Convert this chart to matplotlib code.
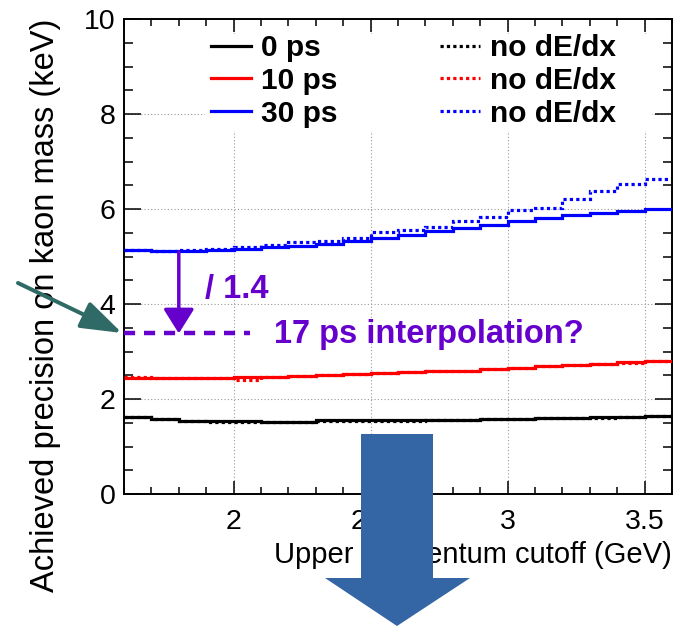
import matplotlib
matplotlib.use('Agg')
import matplotlib.pyplot as plt
from matplotlib.patches import Polygon, Rectangle, FancyArrowPatch
from matplotlib.lines import Line2D
from matplotlib.ticker import MultipleLocator, FormatStrFormatter

# ---------------- data ----------------
bin_edges = [1.6, 1.7, 1.8, 1.9, 2.0, 2.1, 2.2, 2.3, 2.4, 2.5, 2.6,
             2.7, 2.8, 2.9, 3.0, 3.1, 3.2, 3.3, 3.4, 3.5, 3.6]

prec_0ps = [1.62, 1.57, 1.54, 1.54, 1.54, 1.525, 1.525, 1.55, 1.55, 1.55,
            1.55, 1.56, 1.565, 1.58, 1.58, 1.595, 1.60, 1.615, 1.625, 1.645]
prec_0ps_nodedx = [1.62, 1.57, 1.54, 1.51, 1.51, 1.525, 1.525, 1.54, 1.54, 1.54,
                   1.545, 1.555, 1.56, 1.575, 1.575, 1.59, 1.595, 1.61, 1.62, 1.64]

prec_10ps = [2.44, 2.44, 2.44, 2.44, 2.46, 2.46, 2.49, 2.51, 2.53, 2.54,
             2.56, 2.59, 2.60, 2.64, 2.66, 2.69, 2.72, 2.745, 2.77, 2.80]
prec_10ps_nodedx = [2.47, 2.44, 2.44, 2.44, 2.41, 2.46, 2.49, 2.51, 2.53, 2.55,
                    2.56, 2.60, 2.60, 2.64, 2.66, 2.69, 2.72, 2.745, 2.76, 2.80]

prec_30ps = [5.14, 5.12, 5.12, 5.14, 5.16, 5.19, 5.23, 5.27, 5.32, 5.39,
             5.46, 5.54, 5.60, 5.66, 5.74, 5.81, 5.87, 5.92, 5.95, 6.00]
prec_30ps_nodedx = [5.14, 5.12, 5.14, 5.16, 5.19, 5.24, 5.30, 5.33, 5.38, 5.51,
                    5.56, 5.63, 5.74, 5.83, 5.97, 6.03, 6.22, 6.37, 6.53, 6.64]

legend_labels = ['0 ps', '10 ps', '30 ps', 'no dE/dx', 'no dE/dx', 'no dE/dx']

arrow_x = 1.80          # x of "/1.4" arrow
arrow_from = 5.10       # 30 ps level
interp_level = 3.38     # 17 ps interpolated level
interp_x_end = 2.06

# ---------------- style ----------------
plt.rcParams['font.family'] = ['Liberation Sans', 'DejaVu Sans']
PURPLE = '#6600cc'
TEAL = '#306a66'
BIGBLUE = '#3465a4'
LW = 2.3
DOT = (0, (1, 1))

fig = plt.figure(figsize=(6.83, 6.29), dpi=100)
W, H = 683.0, 629.0
ax = fig.add_axes([124 / W, 1 - 494 / H, 548 / W, 475 / H])
ax.set_xlim(1.6, 3.6)
ax.set_ylim(0, 10)

ax.xaxis.set_major_locator(MultipleLocator(0.5))
ax.xaxis.set_minor_locator(MultipleLocator(0.1))
ax.yaxis.set_major_locator(MultipleLocator(2))
ax.yaxis.set_minor_locator(MultipleLocator(0.5))
ax.xaxis.set_major_formatter(FormatStrFormatter('%g'))
ax.yaxis.set_major_formatter(FormatStrFormatter('%g'))

ax.set_axisbelow(True)
ax.grid(True, which='major', color='#9a9a9a', lw=0.8, ls=(0, (1, 2)))

ax.tick_params(which='both', direction='in', top=True, right=True,
               width=1.1, colors='black', labelsize=20.5)
ax.tick_params(axis='x', which='major', length=9.4, pad=10.5)
ax.tick_params(axis='x', which='minor', length=4.7)
ax.tick_params(axis='y', which='major', length=12, pad=6)
ax.tick_params(axis='y', which='minor', length=6.5)
for s in ax.spines.values():
    s.set_linewidth(1.4)

# white legend pad covering grid
ax.add_patch(Rectangle((0.148, 0.764), 0.9635 - 0.148, 0.968 - 0.764,
                       transform=ax.transAxes, facecolor='white',
                       edgecolor='none', zorder=1))

series = [(prec_0ps, prec_0ps_nodedx, 'black'),
          (prec_10ps, prec_10ps_nodedx, '#ff0000'),
          (prec_30ps, prec_30ps_nodedx, '#0000ff')]
for solid, dotted, col in series:
    ax.stairs(dotted, bin_edges, baseline=None, color=col, lw=LW,
              linestyle=DOT, zorder=2)
    ax.stairs(solid, bin_edges, baseline=None, color=col, lw=LW, zorder=3)

handles = [Line2D([0], [0], color=c, lw=LW) for _, _, c in series] + \
          [Line2D([0], [0], color=c, lw=LW, ls=DOT) for _, _, c in series]
leg = ax.legend(handles, legend_labels, ncol=2, loc='upper left',
                bbox_to_anchor=(0.1588, 0.9684), borderaxespad=0, borderpad=0,
                frameon=False, prop={'weight': 'bold', 'size': 21.5},
                handlelength=1.34, handletextpad=0.33, columnspacing=3.45,
                labelspacing=0.16)
leg.set_zorder(5)

ax.set_xlabel('Upper momentum cutoff (GeV)', fontsize=21, loc='right')
ax.xaxis.set_label_coords(1.0, -0.098)
ax.set_ylabel('Achieved precision on kaon mass (keV)', fontsize=23.5, loc='top')
ax.yaxis.set_label_coords(-0.115, 1.0)

# purple annotations
ax.plot([1.6, interp_x_end], [interp_level, interp_level], color=PURPLE,
        lw=3.2, ls=(0, (2.5, 2.0)), dash_capstyle='butt', zorder=6, clip_on=False)
ax.annotate('', xy=(arrow_x, interp_level), xytext=(arrow_x, arrow_from),
            arrowprops=dict(arrowstyle='-|>,head_length=0.75,head_width=0.47',
                            color=PURPLE, lw=2.5, shrinkA=0, shrinkB=0,
                            mutation_scale=20), zorder=6)
ax.text(1.895, 4.13, '/ 1.4', color=PURPLE, fontweight='bold', fontsize=23.5,
        va='baseline', ha='left', zorder=6)
ax.text(2.149, 3.18, '17 ps interpolation?', color=PURPLE, fontweight='bold',
        fontsize=23.5, va='baseline', ha='left', zorder=6)

# teal pointer arrow (figure coords)
fig.add_artist(FancyArrowPatch((18 / W, 1 - 283 / H), (122 / W, 1 - 333 / H),
                               transform=fig.transFigure,
                               arrowstyle='-|>,head_length=1.26,head_width=0.43',
                               mutation_scale=20, color=TEAL, lw=2.9,
                               shrinkA=0, shrinkB=0, zorder=10))

# big blue down arrow (figure coords)
pts = [(361, 434), (433, 434), (433, 578), (470, 578), (397, 626),
       (325, 578), (361, 578)]
fig.add_artist(Polygon([(x / W, 1 - y / H) for x, y in pts], closed=True,
                       transform=fig.transFigure, facecolor=BIGBLUE,
                       edgecolor='none', zorder=10))

fig.savefig('out.png', dpi=100)
